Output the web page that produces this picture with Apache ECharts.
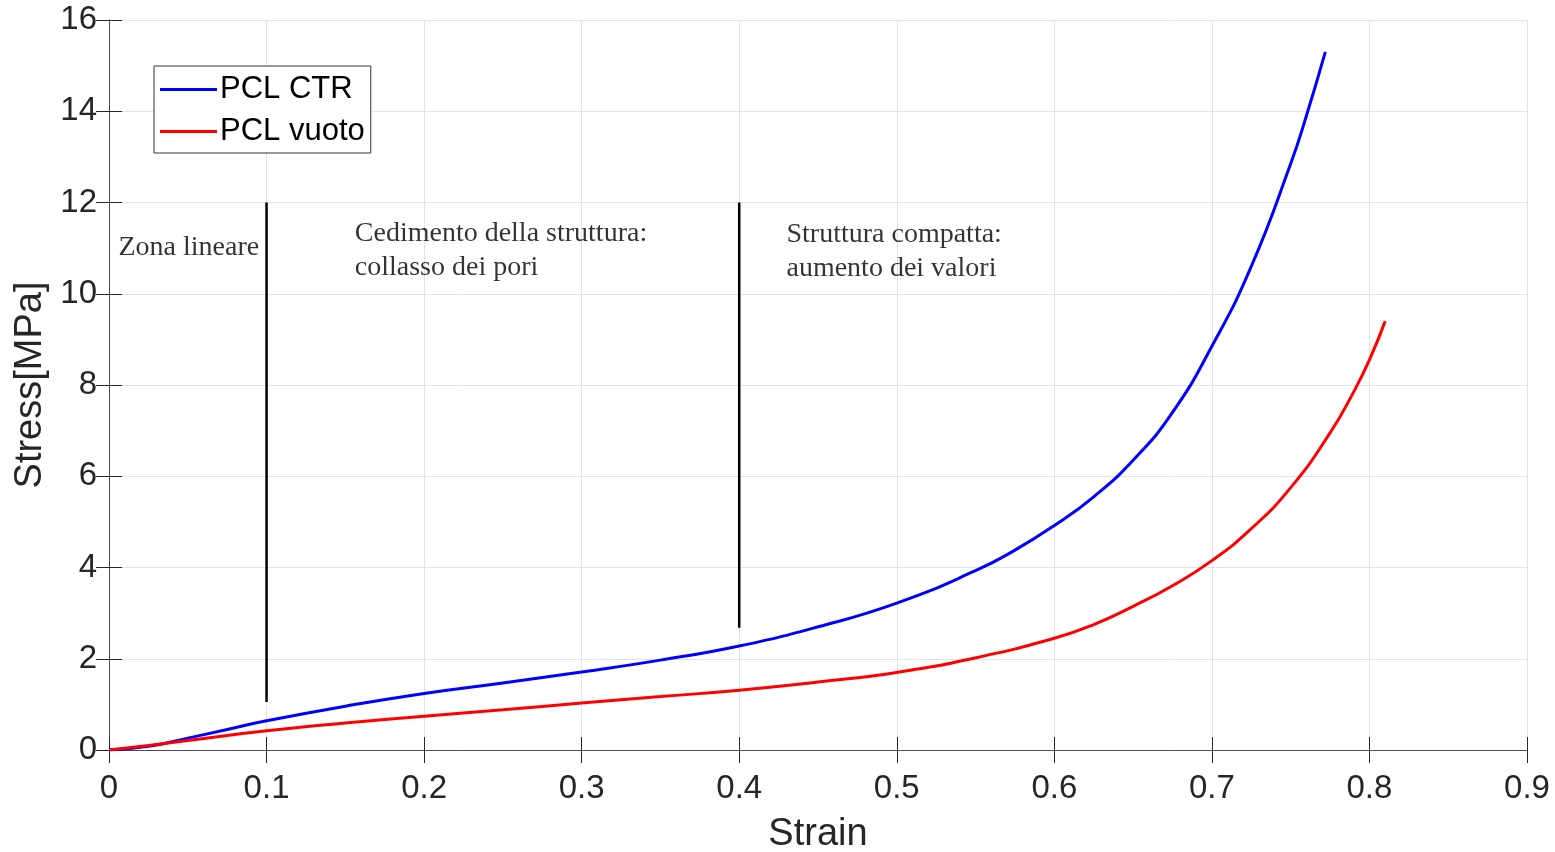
<!DOCTYPE html>
<html>
<head>
<meta charset="utf-8">
<script src="https://cdn.jsdelivr.net/npm/echarts@6/dist/echarts.min.js"></script>
<style>
  html, body { margin: 0; padding: 0; background: #fff; }
  #chart { width: 1555px; height: 852px; }
</style>
</head>
<body>
<div id="chart"></div>
<script>
// dati
var strainCTR = [0, 0.025, 0.05, 0.075, 0.1, 0.15, 0.2, 0.25, 0.3, 0.35, 0.4, 0.45, 0.5, 0.55, 0.575, 0.6, 0.625, 0.65, 0.675, 0.7, 0.725, 0.75, 0.76, 0.772];
var stressCTR = [0, 0.08, 0.26, 0.45, 0.64, 0.96, 1.24, 1.47, 1.71, 1.97, 2.28, 2.70, 3.22, 3.93, 4.38, 4.92, 5.55, 6.35, 7.4, 8.85, 10.6, 12.85, 13.9, 15.3];

var strainVuoto = [0, 0.025, 0.05, 0.1, 0.15, 0.2, 0.25, 0.3, 0.35, 0.4, 0.45, 0.5, 0.55, 0.6, 0.625, 0.65, 0.675, 0.7, 0.725, 0.75, 0.775, 0.79, 0.8, 0.81];
var stressVuoto = [0, 0.1, 0.21, 0.42, 0.59, 0.74, 0.88, 1.03, 1.17, 1.31, 1.49, 1.70, 2.02, 2.45, 2.75, 3.15, 3.6, 4.15, 4.85, 5.75, 6.95, 7.85, 8.55, 9.4];

// linee verticali di separazione delle zone
var line1 = [[0.1, 1.05], [0.1, 12]];
var line2 = [[0.4, 2.68], [0.4, 12]];

var annotations = [
  { pos: [0.006, 11.0], text: 'Zona lineare' },
  { pos: [0.156, 10.95], text: 'Cedimento della struttura:\ncollasso dei pori' },
  { pos: [0.43, 10.93], text: 'Struttura compatta:\naumento dei valori' }
];

var xTicks = { min: 0, max: 0.9, interval: 0.1 };
var yTicks = { min: 0, max: 16, interval: 2 };

function zip(xs, ys) {
  return xs.map(function (x, i) { return [x, ys[i]]; });
}

var chartDom = document.getElementById('chart');
var myChart = echarts.init(chartDom);

var sansFont = '"Liberation Sans", Arial, sans-serif';
var axisColor = '#4d4d4d';

var option = {
  animation: false,
  backgroundColor: '#fff',
  grid: { left: 109, top: 20, right: 28, bottom: 102, outerBoundsMode: 'none' },
  legend: {
    data: ['PCL CTR', 'PCL vuoto'],
    orient: 'vertical',
    left: 154,
    top: 66,
    padding: [8, 6, 6, 6],
    itemGap: 11,
    itemWidth: 57,
    itemHeight: 3,
    icon: 'rect',
    borderColor: '#333',
    borderWidth: 1,
    backgroundColor: '#fff',
    textStyle: { fontFamily: sansFont, fontSize: 31, color: '#000', padding: [0, 0, 0, -2] }
  },
  xAxis: [{
    type: 'value',
    min: xTicks.min, max: xTicks.max, interval: xTicks.interval,
    name: 'Strain',
    nameLocation: 'middle',
    nameGap: 66,
    nameTextStyle: { fontFamily: sansFont, fontSize: 38, color: '#262626' },
    axisLine: { onZero: false, lineStyle: { color: axisColor, width: 1 } },
    axisTick: { inside: true, length: 13, lineStyle: { color: '#262626' } },
    axisLabel: {
      fontFamily: sansFont, fontSize: 33, color: '#262626', margin: 22,
      formatter: function (v) { return String(+v.toFixed(1)); }
    },
    splitLine: { show: true, lineStyle: { color: '#e3e3e3', width: 1 } }
  }, {
    type: 'value', position: 'top',
    min: xTicks.min, max: xTicks.max, interval: xTicks.interval,
    axisLine: { lineStyle: { color: axisColor } },
    axisTick: { inside: true, length: 13, lineStyle: { color: '#262626' } },
    axisLabel: { show: false },
    splitLine: { show: false }
  }],
  yAxis: [{
    type: 'value',
    min: yTicks.min, max: yTicks.max, interval: yTicks.interval,
    name: 'Stress[MPa]',
    nameLocation: 'middle',
    nameGap: 50,
    nameTextStyle: { fontFamily: sansFont, fontSize: 38, color: '#262626' },
    axisLine: { show: true, lineStyle: { color: axisColor, width: 1 } },
    axisTick: { show: true, inside: true, length: 13, lineStyle: { color: '#262626' } },
    axisLabel: { fontFamily: sansFont, fontSize: 33, color: '#262626', margin: 12 },
    splitLine: { show: true, lineStyle: { color: '#e3e3e3', width: 1 } }
  }, {
    type: 'value', position: 'right',
    min: yTicks.min, max: yTicks.max, interval: yTicks.interval,
    axisLine: { show: true, lineStyle: { color: axisColor } },
    axisTick: { show: true, inside: true, length: 13, lineStyle: { color: '#262626' } },
    axisLabel: { show: false },
    splitLine: { show: false }
  }],
  series: [
    {
      name: 'PCL CTR',
      type: 'line',
      data: zip(strainCTR, stressCTR),
      showSymbol: false,
      smooth: 0.5,
      itemStyle: { color: '#0000ff' },
      lineStyle: { color: '#0000ff', width: 3 },
      z: 5
    },
    {
      name: 'PCL vuoto',
      type: 'line',
      data: zip(strainVuoto, stressVuoto),
      showSymbol: false,
      smooth: 0.5,
      itemStyle: { color: '#ff0000' },
      lineStyle: { color: '#ff0000', width: 3 },
      z: 5
    },
    {
      name: 'sep1', type: 'line', data: line1, showSymbol: false,
      lineStyle: { color: '#000', width: 2.5 }
    },
    {
      name: 'sep2', type: 'line', data: line2, showSymbol: false,
      lineStyle: { color: '#000', width: 2.5 }
    },
    {
      name: 'note', type: 'scatter', symbolSize: 0,
      data: annotations.map(function (a) { return { value: a.pos, name: a.text }; }),
      label: {
        show: true,
        position: 'right',
        distance: 0,
        formatter: function (p) { return p.name; },
        fontFamily: '"Liberation Serif", "Times New Roman", serif',
        fontSize: 28,
        lineHeight: 34,
        color: '#000'
      },
      silent: true
    }
  ]
};

myChart.setOption(option);
</script>
</body>
</html>
